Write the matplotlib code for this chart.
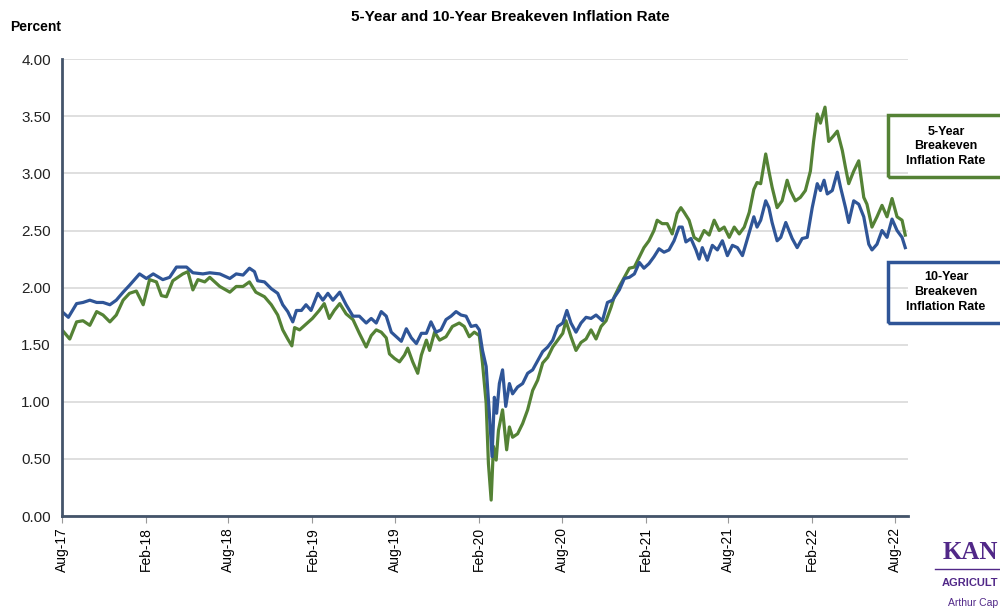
import pandas as pd
import matplotlib
matplotlib.use("Agg")
import matplotlib.pyplot as plt
import matplotlib.dates as mdates
from matplotlib.patches import Rectangle

plt.rcParams['font.family'] = ['Liberation Sans', 'DejaVu Sans']

# 10-year breakeven (blue)
ten_dates = [
    '2017-08-24', '2017-09-07', '2017-09-25', '2017-10-09', '2017-10-24', '2017-11-08',
    '2017-11-22', '2017-12-07', '2017-12-21', '2018-01-05', '2018-01-19', '2018-02-10',
    '2018-02-25', '2018-03-12', '2018-04-02', '2018-04-17', '2018-05-02', '2018-05-24',
    '2018-06-07', '2018-06-29', '2018-07-14', '2018-08-05', '2018-08-27', '2018-09-10',
    '2018-09-25', '2018-10-09', '2018-10-20', '2018-10-27', '2018-11-11', '2018-11-26',
    '2018-12-10', '2018-12-21', '2019-01-01', '2019-01-12', '2019-01-20', '2019-01-31',
    '2019-02-10', '2019-02-21', '2019-03-08', '2019-03-19', '2019-03-30', '2019-04-10',
    '2019-04-25', '2019-05-09', '2019-05-24', '2019-06-07', '2019-06-22', '2019-07-03',
    '2019-07-14', '2019-07-25', '2019-08-05', '2019-08-16', '2019-08-27', '2019-09-07',
    '2019-09-18', '2019-09-29', '2019-10-10', '2019-10-21', '2019-11-01', '2019-11-11',
    '2019-11-22', '2019-12-03', '2019-12-14', '2019-12-25', '2020-01-05', '2020-01-16',
    '2020-01-27', '2020-02-07', '2020-02-18', '2020-02-25', '2020-03-03', '2020-03-11',
    '2020-03-18', '2020-03-24', '2020-03-29', '2020-04-03', '2020-04-09', '2020-04-16',
    '2020-04-23', '2020-05-01', '2020-05-08', '2020-05-19', '2020-05-30', '2020-06-10',
    '2020-06-21', '2020-07-02', '2020-07-13', '2020-07-24', '2020-08-04', '2020-08-15',
    '2020-08-26', '2020-09-04', '2020-09-13', '2020-09-24', '2020-10-05', '2020-10-16',
    '2020-10-27', '2020-11-07', '2020-11-21', '2020-12-02', '2020-12-13', '2020-12-28',
    '2021-01-08', '2021-01-19', '2021-01-30', '2021-02-10', '2021-02-20', '2021-03-03',
    '2021-03-14', '2021-03-25', '2021-04-05', '2021-04-16', '2021-04-27', '2021-05-08',
    '2021-05-15', '2021-05-23', '2021-06-03', '2021-06-14', '2021-06-21', '2021-06-28',
    '2021-07-09', '2021-07-20', '2021-07-31', '2021-08-11', '2021-08-22', '2021-09-02',
    '2021-09-13', '2021-09-24', '2021-10-05', '2021-10-19', '2021-10-26', '2021-11-03',
    '2021-11-14', '2021-11-21', '2021-11-28', '2021-12-09', '2021-12-17', '2021-12-28',
    '2022-01-04', '2022-01-11', '2022-01-22', '2022-02-02', '2022-02-13', '2022-02-24',
    '2022-03-07', '2022-03-14', '2022-03-22', '2022-03-29', '2022-04-09', '2022-04-20',
    '2022-04-27', '2022-05-08', '2022-05-15', '2022-05-26', '2022-06-06', '2022-06-17',
    '2022-06-28', '2022-07-05', '2022-07-16', '2022-07-27', '2022-08-07', '2022-08-18',
    '2022-08-29', '2022-09-09', '2022-09-16',
]
ten_year = [
    1.79, 1.74, 1.86, 1.87, 1.89, 1.87, 1.87, 1.85, 1.89, 1.96, 2.02, 2.12,
    2.08, 2.12, 2.07, 2.09, 2.18, 2.18, 2.13, 2.12, 2.13, 2.12, 2.08, 2.12,
    2.11, 2.17, 2.14, 2.06, 2.05, 1.99, 1.95, 1.85, 1.79, 1.70, 1.80, 1.80,
    1.85, 1.80, 1.95, 1.89, 1.95, 1.89, 1.96, 1.85, 1.75, 1.75, 1.69, 1.73,
    1.69, 1.79, 1.75, 1.61, 1.57, 1.53, 1.64, 1.56, 1.51, 1.60, 1.60, 1.70,
    1.61, 1.63, 1.72, 1.75, 1.79, 1.76, 1.75, 1.66, 1.67, 1.63, 1.45, 1.31,
    0.90, 0.52, 1.04, 0.90, 1.16, 1.28, 0.96, 1.16, 1.07, 1.13, 1.16, 1.25,
    1.28, 1.36, 1.44, 1.48, 1.54, 1.66, 1.69, 1.80, 1.69, 1.61, 1.69, 1.74,
    1.73, 1.76, 1.71, 1.87, 1.89, 1.98, 2.08, 2.09, 2.12, 2.22, 2.17, 2.21,
    2.27, 2.34, 2.31, 2.33, 2.41, 2.53, 2.53, 2.40, 2.43, 2.33, 2.25, 2.35,
    2.24, 2.37, 2.33, 2.41, 2.28, 2.37, 2.35, 2.28, 2.43, 2.62, 2.53, 2.59,
    2.76, 2.70, 2.57, 2.41, 2.44, 2.57, 2.50, 2.43, 2.35, 2.43, 2.44, 2.70,
    2.91, 2.85, 2.94, 2.82, 2.85, 3.01, 2.88, 2.70, 2.57, 2.76, 2.73, 2.62,
    2.38, 2.33, 2.38, 2.50, 2.44, 2.60, 2.50, 2.44, 2.35,
]

# 5-year breakeven (green)
five_dates = [
    '2017-08-24', '2017-09-10', '2017-09-25', '2017-10-09', '2017-10-24', '2017-11-08',
    '2017-11-22', '2017-12-07', '2017-12-21', '2018-01-05', '2018-01-19', '2018-02-03',
    '2018-02-18', '2018-03-04', '2018-03-19', '2018-03-30', '2018-04-10', '2018-04-24',
    '2018-05-16', '2018-05-27', '2018-06-07', '2018-06-18', '2018-07-03', '2018-07-14',
    '2018-08-05', '2018-08-27', '2018-09-10', '2018-09-25', '2018-10-09', '2018-10-23',
    '2018-11-11', '2018-11-26', '2018-12-10', '2018-12-21', '2019-01-01', '2019-01-10',
    '2019-01-16', '2019-01-27', '2019-02-10', '2019-02-24', '2019-03-11', '2019-03-22',
    '2019-04-02', '2019-04-13', '2019-04-25', '2019-05-09', '2019-05-24', '2019-06-07',
    '2019-06-22', '2019-07-03', '2019-07-14', '2019-07-25', '2019-08-05', '2019-08-12',
    '2019-08-23', '2019-09-03', '2019-09-14', '2019-09-21', '2019-10-02', '2019-10-13',
    '2019-10-21', '2019-11-01', '2019-11-08', '2019-11-19', '2019-11-30', '2019-12-14',
    '2019-12-28', '2020-01-12', '2020-01-23', '2020-02-03', '2020-02-14', '2020-02-25',
    '2020-03-03', '2020-03-11', '2020-03-16', '2020-03-22', '2020-03-27', '2020-04-02',
    '2020-04-07', '2020-04-16', '2020-04-25', '2020-05-01', '2020-05-08', '2020-05-19',
    '2020-05-30', '2020-06-10', '2020-06-21', '2020-07-02', '2020-07-13', '2020-07-24',
    '2020-08-04', '2020-08-15', '2020-08-26', '2020-09-02', '2020-09-13', '2020-09-24',
    '2020-10-05', '2020-10-16', '2020-10-27', '2020-11-07', '2020-11-18', '2020-11-29',
    '2020-12-10', '2020-12-17', '2020-12-28', '2021-01-08', '2021-01-19', '2021-01-30',
    '2021-02-10', '2021-02-20', '2021-03-03', '2021-03-14', '2021-03-21', '2021-04-01',
    '2021-04-12', '2021-04-23', '2021-05-04', '2021-05-12', '2021-05-19', '2021-05-30',
    '2021-06-10', '2021-06-21', '2021-07-02', '2021-07-13', '2021-07-24', '2021-08-04',
    '2021-08-15', '2021-08-26', '2021-09-06', '2021-09-17', '2021-09-28', '2021-10-09',
    '2021-10-19', '2021-10-26', '2021-11-03', '2021-11-14', '2021-11-21', '2021-11-28',
    '2021-12-09', '2021-12-20', '2021-12-31', '2022-01-07', '2022-01-18', '2022-01-29',
    '2022-02-09', '2022-02-20', '2022-02-27', '2022-03-07', '2022-03-14', '2022-03-24',
    '2022-04-01', '2022-04-12', '2022-04-20', '2022-05-01', '2022-05-08', '2022-05-15',
    '2022-05-26', '2022-06-06', '2022-06-17', '2022-06-24', '2022-07-05', '2022-07-16',
    '2022-07-27', '2022-08-07', '2022-08-18', '2022-08-29', '2022-09-09', '2022-09-16',
]
five_year = [
    1.63, 1.55, 1.70, 1.71, 1.67, 1.79, 1.76, 1.70, 1.76, 1.89, 1.95, 1.97,
    1.85, 2.07, 2.05, 1.93, 1.92, 2.06, 2.12, 2.14, 1.98, 2.07, 2.05, 2.09,
    2.01, 1.96, 2.01, 2.01, 2.05, 1.96, 1.92, 1.85, 1.76, 1.63, 1.55, 1.49,
    1.65, 1.63, 1.68, 1.73, 1.80, 1.86, 1.73, 1.80, 1.86, 1.77, 1.72, 1.60,
    1.48, 1.58, 1.63, 1.61, 1.56, 1.42, 1.38, 1.35, 1.41, 1.47, 1.35, 1.25,
    1.41, 1.54, 1.45, 1.61, 1.54, 1.57, 1.66, 1.69, 1.66, 1.57, 1.61, 1.58,
    1.34, 0.99, 0.46, 0.14, 0.61, 0.49, 0.75, 0.93, 0.58, 0.78, 0.69, 0.72,
    0.81, 0.93, 1.10, 1.19, 1.34, 1.39, 1.48, 1.54, 1.60, 1.71, 1.57, 1.45,
    1.52, 1.55, 1.63, 1.55, 1.66, 1.71, 1.83, 1.92, 2.01, 2.09, 2.17, 2.18,
    2.27, 2.35, 2.41, 2.50, 2.59, 2.56, 2.56, 2.47, 2.65, 2.70, 2.66, 2.59,
    2.44, 2.41, 2.50, 2.46, 2.59, 2.50, 2.53, 2.44, 2.53, 2.47, 2.53, 2.66,
    2.86, 2.92, 2.91, 3.17, 3.02, 2.88, 2.70, 2.76, 2.94, 2.85, 2.76, 2.79,
    2.85, 3.02, 3.28, 3.52, 3.44, 3.58, 3.28, 3.33, 3.37, 3.20, 3.05, 2.91,
    3.02, 3.11, 2.79, 2.73, 2.53, 2.62, 2.72, 2.62, 2.78, 2.62, 2.59, 2.46,
]

y_ticks = [0, 0.5, 1.0, 1.5, 2.0, 2.5, 3.0, 3.5, 4.0]
tick_dates = pd.date_range('2017-08-24', '2022-08-24', freq=pd.DateOffset(months=6))

green = '#548235'
blue = '#2F5597'
axis_col = '#44546A'
purple = '#512888'

fig = plt.figure(figsize=(10, 6.1), dpi=100)
ax = fig.add_axes([0.062, 0.154, 0.846, 0.749])

ax.plot(pd.to_datetime(five_dates), five_year, color=green, lw=2.3, solid_joinstyle='round')
ax.plot(pd.to_datetime(ten_dates), ten_year, color=blue, lw=2.3, solid_joinstyle='round')

ax.set_ylim(0, 4)
ax.set_yticks(y_ticks)
ax.yaxis.set_major_formatter(plt.FormatStrFormatter('%.2f'))
ax.set_xlim(pd.Timestamp('2017-08-24'), pd.Timestamp('2022-09-22'))
ax.set_xticks(tick_dates)
ax.xaxis.set_major_formatter(mdates.DateFormatter('%b-%y'))

ax.grid(axis='y', color='#d9d9d9', lw=1.2)
ax.set_axisbelow(True)
for s in ['top', 'right']:
    ax.spines[s].set_visible(False)
ax.spines['left'].set_color(axis_col)
ax.spines['left'].set_linewidth(2)
ax.spines['bottom'].set_color(axis_col)
ax.spines['bottom'].set_linewidth(2)
ax.tick_params(axis='y', length=0, labelsize=11, pad=8, colors='#222222')
ax.tick_params(axis='x', length=5, color='#999999', labelsize=10, rotation=90, pad=3)

fig.text(0.51, 0.972, '5-Year and 10-Year Breakeven Inflation Rate',
         ha='center', va='center', fontsize=11, fontweight='bold')
fig.text(0.01, 0.955, 'Percent', ha='left', va='center', fontsize=10, fontweight='bold')

# label boxes on the right (run off the edge like the original)
fig.patches.append(Rectangle((0.888, 0.710), 0.12, 0.101, transform=fig.transFigure,
                             fill=False, edgecolor=green, lw=2.5))
fig.text(0.946, 0.760, '5-Year\nBreakeven\nInflation Rate', ha='center', va='center',
         fontsize=9, fontweight='bold', linespacing=1.3)
fig.patches.append(Rectangle((0.888, 0.471), 0.12, 0.099, transform=fig.transFigure,
                             fill=False, edgecolor=blue, lw=2.5))
fig.text(0.946, 0.521, '10-Year\nBreakeven\nInflation Rate', ha='center', va='center',
         fontsize=9, fontweight='bold', linespacing=1.3)

# logo, only the part that shows in the original
fig.text(0.998, 0.095, 'KAN', ha='right', va='center', fontsize=18,
         fontweight='bold', family='Liberation Serif', color=purple)
fig.lines.append(plt.Line2D([0.935, 1.0], [0.068, 0.068], transform=fig.transFigure,
                            color=purple, lw=1))
fig.text(0.998, 0.045, 'AGRICULT', ha='right', va='center', fontsize=8,
         fontweight='bold', color=purple)
fig.text(0.998, 0.012, 'Arthur Cap', ha='right', va='center', fontsize=7.5, color=purple)

fig.savefig('out.png', dpi=100)
